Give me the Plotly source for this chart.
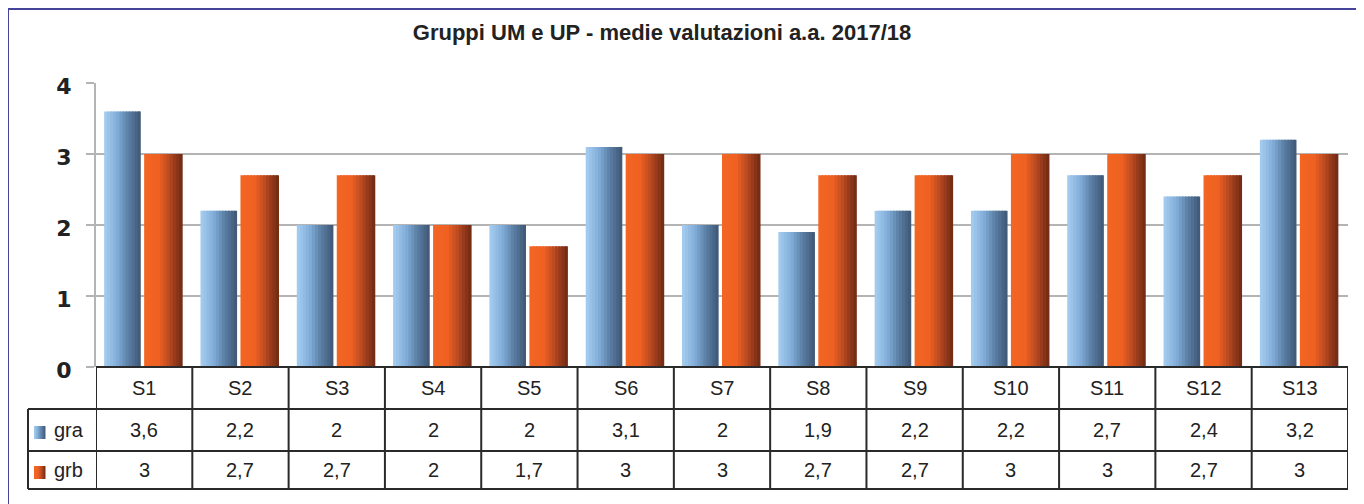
import plotly.graph_objects as go

# ---- data ----
categories = ["S1", "S2", "S3", "S4", "S5", "S6", "S7", "S8", "S9", "S10", "S11", "S12", "S13"]
series_names = ["gra", "grb"]
gra = [3.6, 2.2, 2.0, 2.0, 2.0, 3.1, 2.0, 1.9, 2.2, 2.2, 2.7, 2.4, 3.2]
grb = [3.0, 2.7, 2.7, 2.0, 1.7, 3.0, 3.0, 2.7, 2.7, 3.0, 3.0, 2.7, 3.0]
y_ticks = [0, 1, 2, 3, 4]
title_text = "Gruppi UM e UP - medie valutazioni a.a. 2017/18"

# ---- geometry / style ----
W, H = 1364, 504
S = 8  # page body margin offset
L, R, T, B = 96 - S, W - (1348 - S), 83 - S, H - (367 - S)
plot_w = W - L - R
plot_h = H - T - B
n = len(categories)
cat_px = plot_w / n


def xd(px):
    return -0.5 + (px - S - L) / cat_px


def yp(py):
    return (H - B - (py - S)) / plot_h


def xp(px):
    return (px - S - L) / plot_w


def lerp_color(stops, t):
    for (t0, c0), (t1, c1) in zip(stops[:-1], stops[1:]):
        if t0 <= t <= t1:
            f = (t - t0) / (t1 - t0) if t1 > t0 else 0
            c = [round(a + (b - a) * f) for a, b in zip(c0, c1)]
            return "rgb(%d,%d,%d)" % tuple(c)
    c = stops[-1][1]
    return "rgb(%d,%d,%d)" % tuple(c)


grad_a = [(0.0, (166, 206, 240)), (0.35, (130, 174, 218)), (0.65, (92, 128, 166)), (1.0, (62, 86, 116))]
grad_b = [(0.0, (243, 102, 34)), (0.38, (238, 97, 34)), (0.6, (196, 78, 34)), (0.8, (150, 58, 28)), (1.0, (110, 42, 20))]

N = 12
fig = go.Figure()
series = [(gra, -0.415, 0.38, grad_a), (grb, 0.0, 0.40, grad_b)]
for vals, off0, width, grad in series:
    sw = width / N
    for i in range(N):
        fig.add_trace(go.Bar(
            x=list(range(n)), y=vals,
            offset=off0 + i * sw, width=sw * (1.6 if i < N - 1 else 1.0),
            marker=dict(color=lerp_color(grad, (i + 0.5) / N), line=dict(width=0)),
            showlegend=False, hoverinfo="skip" if i else "y",
        ))

font_txt = "Liberation Sans, Arial, sans-serif"
txt_font = dict(family=font_txt, size=20, color="#222")
annotations = []
shapes = []
# table rows
row_cat, row_a, row_b = 388, 430, 470
for i, c in enumerate(categories):
    annotations.append(dict(x=i, y=yp(row_cat), xref="x", yref="paper", text=c, showarrow=False,
                            font=txt_font, yanchor="middle"))
    annotations.append(dict(x=i, y=yp(row_a), xref="x", yref="paper",
                            text=("%g" % gra[i]).replace(".", ","), showarrow=False,
                            font=txt_font, yanchor="middle"))
    annotations.append(dict(x=i, y=yp(row_b), xref="x", yref="paper",
                            text=("%g" % grb[i]).replace(".", ","), showarrow=False,
                            font=txt_font, yanchor="middle"))
for name, ry in zip(series_names, [row_a, row_b]):
    annotations.append(dict(x=xp(52), y=yp(ry), xref="paper", yref="paper", text=name, showarrow=False,
                            xanchor="left", yanchor="middle", font=txt_font))

# legend keys (gradient squares)
for grad, ky in [(grad_a, 426), (grad_b, 466)]:
    k = 6
    for j in range(k):
        x0 = 34 + j * 11 / k
        shapes.append(dict(type="rect", xref="paper", yref="paper", x0=xp(x0), x1=xp(x0 + 11 / k + 0.5),
                           y0=yp(ky), y1=yp(ky + 13), line=dict(width=0),
                           fillcolor=lerp_color(grad, (j + 0.5) / k)))

line_c = "#2a2a2a"
# horizontal table lines
shapes.append(dict(type="line", xref="paper", yref="paper", x0=0, x1=1, y0=0, y1=0,
                   line=dict(color=line_c, width=2)))
for py in [409, 451, 489]:
    shapes.append(dict(type="line", xref="paper", yref="paper", x0=xp(28), x1=1, y0=yp(py), y1=yp(py),
                       line=dict(color=line_c, width=2)))
# vertical table lines
for k in range(n + 1):
    shapes.append(dict(type="line", xref="x", yref="paper", x0=k - 0.5, x1=k - 0.5, y0=0, y1=yp(489),
                       line=dict(color=line_c, width=2)))
shapes.append(dict(type="line", xref="paper", yref="paper", x0=xp(28), x1=xp(28), y0=yp(409), y1=yp(489),
                   line=dict(color=line_c, width=2)))
# outer border
shapes.append(dict(type="rect", xref="paper", yref="paper", x0=xp(8), x1=xp(1361), y0=yp(9), y1=yp(540),
                   line=dict(color="#44449a", width=2), fillcolor="rgba(0,0,0,0)", layer="below"))

fig.update_layout(
    width=W, height=H,
    margin=dict(l=L, r=R, t=T, b=B),
    paper_bgcolor="white", plot_bgcolor="white",
    barmode="overlay",
    title=dict(text="<b>" + title_text + "</b>", x=(662 - S) / W, xanchor="center", xref="container",
               y=1 - (32 - S) / H, yref="container", yanchor="middle",
               font=dict(family=font_txt, size=22, color="#222")),
    xaxis=dict(range=[-0.5, n - 0.5], showticklabels=False, showgrid=False, zeroline=False,
               showline=False, ticks=""),
    yaxis=dict(range=[0, 4], tickvals=y_ticks, showgrid=True, gridcolor="#b4b4b4", gridwidth=2,
               zeroline=False, showline=True, linecolor="#b4b4b4", linewidth=2,
               ticks="outside", ticklen=8, tickcolor="#b4b4b4", tickwidth=2,
               ticklabelstandoff=10, ticklabelshift=3,
               tickfont=dict(family="DejaVu Sans, Verdana, sans-serif", size=22, color="#222",
                             weight="bold")),
    annotations=annotations, shapes=shapes,
)

fig.write_html("out.html")
